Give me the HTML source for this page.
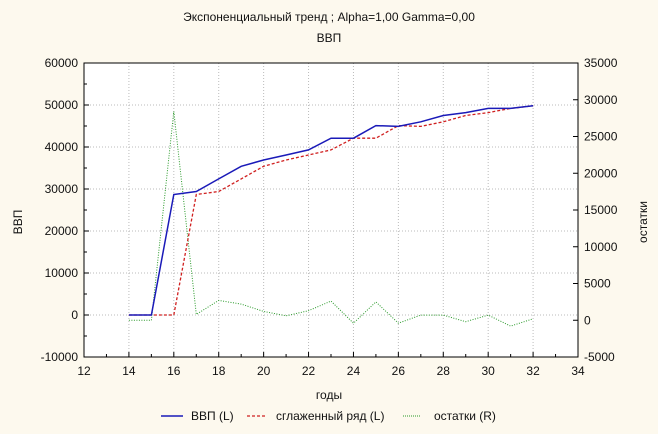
<!DOCTYPE html>
<html><head><meta charset="utf-8"><style>
html,body{margin:0;padding:0;background:#fdf9ee;}
svg{display:block;font-family:"Liberation Sans",sans-serif;}
</style></head><body>
<svg id="chart" width="658" height="434">
<rect x="0" y="0" width="658" height="434" fill="#fdf9ee"/>
<text x="329" y="21" font-size="12" text-anchor="middle" fill="#111">Экспоненциальный тренд ; Alpha=1,00 Gamma=0,00</text>
<text x="329" y="42" font-size="12" text-anchor="middle" fill="#111">ВВП</text>
<rect x="84" y="63" width="494" height="294" fill="#fff"/>
<g id="grid"></g>
<g id="series"></g>
<rect x="84" y="63" width="494" height="294" fill="none" stroke="#000" stroke-width="1"/>
<g id="axes"></g>
<text x="329" y="399" font-size="12" text-anchor="middle" fill="#111">годы</text>
<text transform="translate(22,222) rotate(-90)" font-size="12" text-anchor="middle" fill="#111">ВВП</text>
<text transform="translate(647,222) rotate(-90)" font-size="12" text-anchor="middle" fill="#111">остатки</text>
<g>
<line x1="161" y1="416" x2="183" y2="416" stroke="#1a1ab8" stroke-width="1.5"/>
<text x="191" y="420" font-size="12" fill="#111">ВВП (L)</text>
<line x1="247" y1="416" x2="266" y2="416" stroke="#d02020" stroke-width="1.2" stroke-dasharray="3,2"/>
<text x="276" y="420" font-size="12" fill="#111">сглаженный ряд (L)</text>
<line x1="403" y1="416" x2="421" y2="416" stroke="#2a9a2a" stroke-width="1" stroke-dasharray="1,1"/>
<text x="434" y="420" font-size="12" fill="#111">остатки (R)</text>
</g>
</svg>
<script>
const years = [14,15,16,17,18,19,20,21,22,23,24,25,26,27,28,29,30,31,32];
const gdp = [0,0,28700,29400,32400,35400,36900,38100,39300,42100,42100,45100,44900,46000,47500,48200,49200,49200,49800];
const smoothed = [0,0,0,28700,29400,32400,35400,36900,38100,39300,42100,42100,45100,44900,46000,47500,48200,49200,49800];
const residuals = [0,0,28400,800,2700,2200,1200,600,1300,2600,-400,2500,-400,700,700,-200,700,-800,200];
const xTicks = [12,14,16,18,20,22,24,26,28,30,32,34];
const yLeftTicks = [-10000,0,10000,20000,30000,40000,50000,60000];
const yRightTicks = [-5000,0,5000,10000,15000,20000,25000,30000,35000];
const L=84,R=578,T=63,B=357;
const xs=v=>L+(v-12)/(34-12)*(R-L);
const yl=v=>B-(v+10000)/70000*(B-T);
const yr=v=>B-(v+5000)/40000*(B-T);
const NS="http://www.w3.org/2000/svg";
function mk(tag,attrs,parent){const e=document.createElementNS(NS,tag);for(const k in attrs)e.setAttribute(k,attrs[k]);parent.appendChild(e);return e;}
const grid=document.getElementById('grid'),axes=document.getElementById('axes'),series=document.getElementById('series');
xTicks.forEach(t=>{const x=xs(t);
 if(t>12&&t<34){const g=mk('line',{x1:x,y1:T,x2:x,y2:B,stroke:'#bbb','stroke-dasharray':'1,2'},grid);
 
 }
 const tk=mk('line',{x1:x,y1:B,x2:x,y2:B-5,stroke:'#000'},axes);
 
 
 const tx=mk('text',{x:x,y:B+18,'font-size':12,'text-anchor':'middle',fill:'#111'},axes);tx.textContent=t;
 
 
 if(t<34){const m=mk('line',{x1:xs(t+1),y1:B,x2:xs(t+1),y2:B-3,stroke:'#000'},axes);
 
 }
});
yLeftTicks.forEach(t=>{const y=yl(t);
 if(t>-10000&&t<60000){const g=mk('line',{x1:L,y1:y,x2:R,y2:y,stroke:'#bbb','stroke-dasharray':'1,2'},grid);
 
 }
 const tk=mk('line',{x1:L,y1:y,x2:L+5,y2:y,stroke:'#000'},axes);
 
 
 const tx=mk('text',{x:L-6,y:y+4,'font-size':12,'text-anchor':'end',fill:'#111'},axes);tx.textContent=t;
 
 
 if(t<60000){const m=mk('line',{x1:L,y1:yl(t+5000),x2:L+3,y2:yl(t+5000),stroke:'#000'},axes);
 
 }
});
yRightTicks.forEach(t=>{const y=yr(t);
 const tk=mk('line',{x1:R,y1:y,x2:R-5,y2:y,stroke:'#000'},axes);
 
 
 const tx=mk('text',{x:R+6,y:y+4,'font-size':12,'text-anchor':'start',fill:'#111'},axes);tx.textContent=t;
 
 
});
function line(vals,yf,stroke,w,dash,name){
 const pts=years.map((yy,i)=>xs(yy).toFixed(1)+','+yf(vals[i]).toFixed(1)).join(' ');
 const p=mk('polyline',{points:pts,fill:'none',stroke:stroke,'stroke-width':w},series);
 if(dash)p.setAttribute('stroke-dasharray',dash);
 
 
}
line(residuals,yr,'#2a9a2a',1,'1,1.5','residuals-line');
line(smoothed,yl,'#d02020',1.3,'3,2','smoothed-line');
line(gdp,yl,'#1a1ab8',1.5,null,'gdp-line');
</script>
</body></html>
